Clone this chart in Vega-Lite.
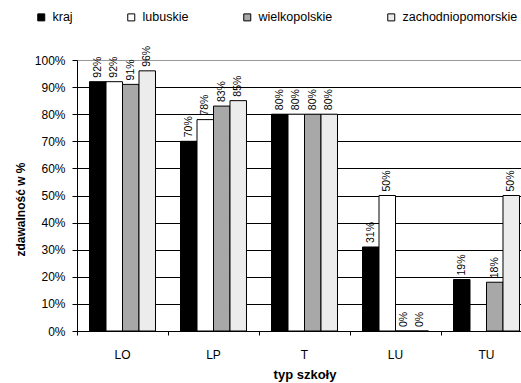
{
  "$schema": "https://vega.github.io/schema/vega-lite/v6.json",
  "width": 444,
  "height": 271,
  "autosize": "none",
  "padding": {"left": 77, "top": 60, "right": 0, "bottom": 52},
  "background": "white",
  "config": {"font": "Liberation Sans", "view": {"stroke": null}},
  "data": {"values": [
    {"typ": "LO", "seria": "kraj", "v": 0.92},
    {"typ": "LO", "seria": "lubuskie", "v": 0.92},
    {"typ": "LO", "seria": "wielkopolskie", "v": 0.91},
    {"typ": "LO", "seria": "zachodniopomorskie", "v": 0.96},
    {"typ": "LP", "seria": "kraj", "v": 0.70},
    {"typ": "LP", "seria": "lubuskie", "v": 0.78},
    {"typ": "LP", "seria": "wielkopolskie", "v": 0.83},
    {"typ": "LP", "seria": "zachodniopomorskie", "v": 0.85},
    {"typ": "T", "seria": "kraj", "v": 0.80},
    {"typ": "T", "seria": "lubuskie", "v": 0.80},
    {"typ": "T", "seria": "wielkopolskie", "v": 0.80},
    {"typ": "T", "seria": "zachodniopomorskie", "v": 0.80},
    {"typ": "LU", "seria": "kraj", "v": 0.31},
    {"typ": "LU", "seria": "lubuskie", "v": 0.50},
    {"typ": "LU", "seria": "wielkopolskie", "v": 0.0},
    {"typ": "LU", "seria": "zachodniopomorskie", "v": 0.0},
    {"typ": "TU", "seria": "kraj", "v": 0.19},
    {"typ": "TU", "seria": "wielkopolskie", "v": 0.18},
    {"typ": "TU", "seria": "zachodniopomorskie", "v": 0.50}
  ]},
  "encoding": {
    "x": {
      "field": "typ", "type": "nominal", "sort": ["LO", "LP", "T", "LU", "TU"],
      "title": "typ szkoły",
      "scale": {"range": [0, 455], "paddingInner": 0, "paddingOuter": 0},
      "axis": {
        "bandPosition": 0, "tickSize": 4, "labelPadding": 14, "labelFontSize": 12,
        "labelAngle": 0, "labelColor": "black", "grid": false,
        "domainColor": "black", "tickColor": "black",
        "titleFontSize": 13, "titleFontWeight": "bold", "titleColor": "black",
        "titleBaseline": "alphabetic", "titleY": 47
      }
    },
    "xOffset": {
      "field": "seria", "type": "nominal",
      "sort": ["kraj", "lubuskie", "wielkopolskie", "zachodniopomorskie"],
      "scale": {"paddingInner": 0, "paddingOuter": 0.7576}
    },
    "y": {
      "field": "v", "type": "quantitative", "title": "zdawalność w %",
      "scale": {"domain": [0, 1]},
      "axis": {
        "values": [0, 0.1, 0.2, 0.3, 0.4, 0.5, 0.6, 0.7, 0.8, 0.9, 1],
        "format": ".0%", "tickSize": 5, "labelPadding": 7, "labelFontSize": 12,
        "labelColor": "black", "domainColor": "black", "tickColor": "black",
        "gridColor": {"condition": {"test": "datum.value > 0.99", "value": "#999999"}, "value": "#000000"},
        "gridWidth": 1,
        "titleFontSize": 12, "titleFontWeight": "bold", "titleColor": "black",
        "titleAngle": 270, "titleBaseline": "middle", "titleAlign": "center",
        "titleX": -57, "titleY": 149
      }
    }
  },
  "layer": [
    {
      "mark": {"type": "bar", "stroke": "black", "strokeWidth": 1},
      "encoding": {
        "fill": {
          "field": "seria", "type": "nominal",
          "scale": {
            "domain": ["kraj", "lubuskie", "wielkopolskie", "zachodniopomorskie"],
            "range": ["#000000", "#ffffff", "#a8a8a8", "#ececec"]
          },
          "legend": {
            "title": null, "orient": "none", "direction": "horizontal", "columns": 4,
            "legendX": -42, "legendY": -49, "padding": 0, "columnPadding": 52,
            "symbolType": "square", "symbolSize": 49, "symbolStrokeColor": "black",
            "symbolStrokeWidth": 1, "labelFontSize": 12.5, "labelOffset": 5,
            "labelColor": "black", "labelLimit": 200
          }
        }
      }
    },
    {
      "mark": {"type": "text", "angle": 270, "align": "left", "baseline": "middle", "dx": 4, "fontSize": 10.5, "color": "black"},
      "encoding": {"text": {"field": "v", "type": "quantitative", "format": ".0%"}}
    }
  ]
}
